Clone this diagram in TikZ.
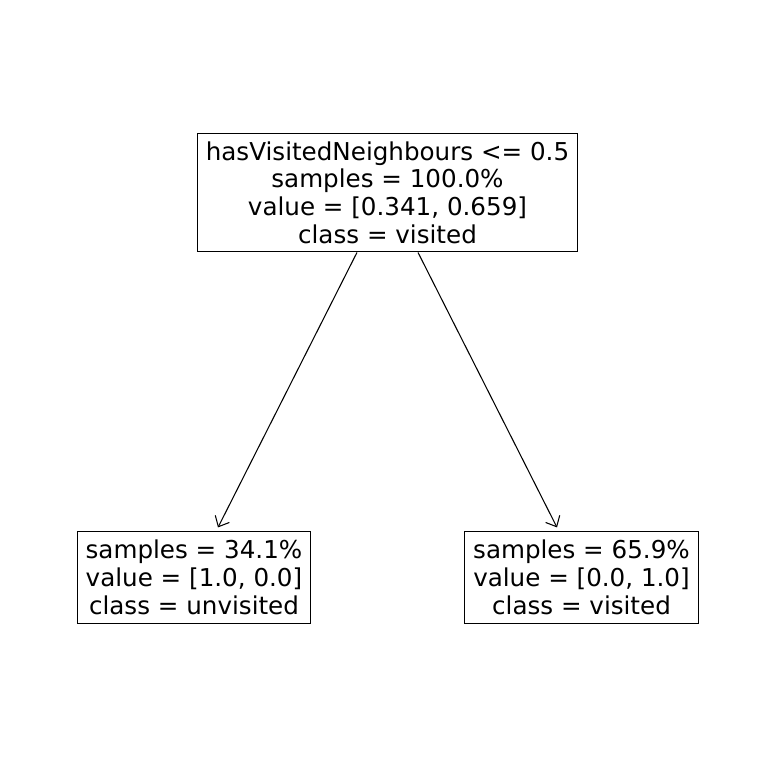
\documentclass[tikz,border=0pt]{standalone}
\usepackage{fontspec}
\setmainfont{DejaVu Sans}
\usetikzlibrary{arrows.meta}

\tikzset{
  leafbox/.style={draw,line width=0.6pt,align=center,inner xsep=4.8pt,inner ysep=4.7pt,
    font=\fontsize{14}{15.8}\selectfont}
}

\begin{document}
\begin{tikzpicture}[x=0.02cm,y=-0.02cm,>={Straight Barb[length=5pt,width=9pt]}]
\useasboundingbox (0,0) rectangle (775,770);
\node[leafbox] (root) at (387.5,192.5)
 {hasVisitedNeighbours <= 0.5\\ samples = 100.0\%\\ value = [0.341, 0.659]\\ class = visited};
\node[leafbox] (left) at (194,577.5)
 {samples = 34.1\%\\ value = [1.0, 0.0]\\ class = unvisited};
\node[leafbox] (right) at (581.5,577.5)
 {samples = 65.9\%\\ value = [0.0, 1.0]\\ class = visited};
\draw[->,line width=0.6pt] ([xshift=-0.61cm]root.south) -- ([xshift=0.48cm,yshift=0.08cm]left.north);
\draw[->,line width=0.6pt] ([xshift=0.61cm]root.south) -- ([xshift=-0.49cm,yshift=0.08cm]right.north);
\end{tikzpicture}
\end{document}
